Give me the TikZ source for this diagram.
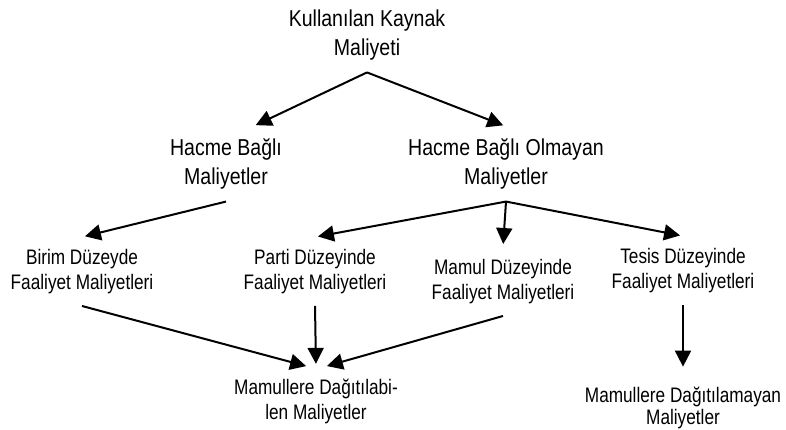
\documentclass[tikz,border=0pt]{standalone}
\usepackage{fontspec}
\usepackage{tikz}
\usetikzlibrary{arrows.meta}
\newfontfamily\upperfont{Liberation Sans}[FakeStretch=0.85]
\newfontfamily\lowerfont{Liberation Sans}[FakeStretch=0.82]

\begin{document}
\begin{tikzpicture}[x=1pt,y=-1pt,
    upper/.style={align=center,inner xsep=2pt,inner ysep=12pt,font=\upperfont\fontsize{23}{29}\selectfont},
    lower/.style={align=center,inner xsep=2pt,inner ysep=12pt,font=\lowerfont\fontsize{21}{25}\selectfont},
    link/.style={line width=2pt,-{Triangle[length=16pt,width=16pt]},shorten >=3pt}]
  \useasboundingbox (0,0) rectangle (786,430);
  % top and the two cost groups
  \node[upper] (kaynak)  at (367,35)  {Kullanılan Kaynak\\Maliyeti};
  \node[upper] (hacme)   at (226,164) {Hacme Bağlı\\Maliyetler};
  \node[upper] (olmayan) at (506,164) {Hacme Bağlı Olmayan\\Maliyetler};
  % activity levels
  \node[lower] (birim) at (82,271.5)  {Birim Düzeyde\\Faaliyet Maliyetleri};
  \node[lower] (parti) at (315,271.5) {Parti Düzeyinde\\Faaliyet Maliyetleri};
  \node[lower] (mamul) at (503,281.5) {Mamul Düzeyinde\\Faaliyet Maliyetleri};
  \node[lower] (tesis) at (683,270.5) {Tesis Düzeyinde\\Faaliyet Maliyetleri};
  % allocation
  \node[lower] (dagitilir) at (316,401.5) {Mamullere Dağıtılabi-\\len Maliyetler};
  \node[lower,font=\lowerfont\fontsize{21}{22.5}\selectfont] (dagitilmaz) at (683,408) {Mamullere Dağıtılamayan\\Maliyetler};
  \draw[link] (kaynak.south) -- ([xshift=27pt]hacme.north);
  \draw[link] (kaynak.south) -- (olmayan.north);
  \draw[link] (hacme.south) -- (birim.north);
  \foreach \n in {parti,mamul,tesis} \draw[link] (olmayan.south) -- (\n.north);
  \draw[link] (birim.south) -- ([xshift=-7pt]dagitilir.north);
  \draw[link] (parti.south) -- (dagitilir.north);
  \draw[link] (mamul.south) -- ([xshift=8pt]dagitilir.north);
  \draw[link] (tesis.south) -- ([yshift=5pt]dagitilmaz.north);
\end{tikzpicture}
\end{document}
